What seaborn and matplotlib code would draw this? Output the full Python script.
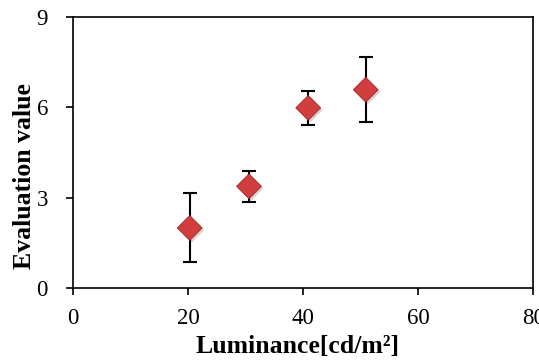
import matplotlib
matplotlib.use("Agg")
import matplotlib.pyplot as plt
import matplotlib.patheffects as pe
import seaborn as sns
import pandas as pd

luminance = [20.3, 30.6, 40.9, 50.9]
evaluation = [2.0, 3.38, 5.98, 6.58]
err_low = [1.14, 0.51, 0.57, 1.07]
err_high = [1.15, 0.52, 0.57, 1.07]

df = pd.DataFrame({'luminance': luminance, 'evaluation': evaluation})

sns.set_style('ticks')
plt.rcParams['font.family'] = ['Liberation Serif', 'DejaVu Serif']

fig = plt.figure(figsize=(5.39, 3.63), dpi=100)
ax = fig.add_axes([0.1354, 0.2058, 0.8536, 0.7482])

ax.errorbar(luminance, evaluation, yerr=[err_low, err_high], fmt='none',
            ecolor='black', elinewidth=1.5, capsize=5, capthick=1.5, zorder=2)
sns.scatterplot(data=df, x='luminance', y='evaluation', marker='D', s=160,
                color='#d03e3e', edgecolor='#9e2a2a', linewidth=0.6, ax=ax, zorder=3,
                path_effects=[pe.SimplePatchShadow(offset=(1.5, -1.5), alpha=0.2), pe.Normal()])

ax.set_xlim(0, 80)
ax.set_ylim(0, 9)
ax.set_xticks([0, 20, 40, 60, 80])
ax.set_yticks([0, 3, 6, 9])
ax.tick_params(direction='out', length=5, width=1.2, labelsize=16.5,
               colors='black', labelcolor='black')
ax.tick_params(axis='y', pad=13)
ax.tick_params(axis='x', pad=9)
for s in ax.spines.values():
    s.set_visible(True)
    s.set_linewidth(1.2)
    s.set_color('black')

ax.set_xlabel('Luminance[cd/m²]', fontsize=18.5, fontweight='bold', color='black')
ax.set_ylabel('Evaluation value', fontsize=18.5, fontweight='bold', color='black')
ax.xaxis.set_label_coords(0.489, -0.172)
ax.yaxis.set_label_coords(-0.08, 0.413)

fig.savefig('out.png', dpi=100)
